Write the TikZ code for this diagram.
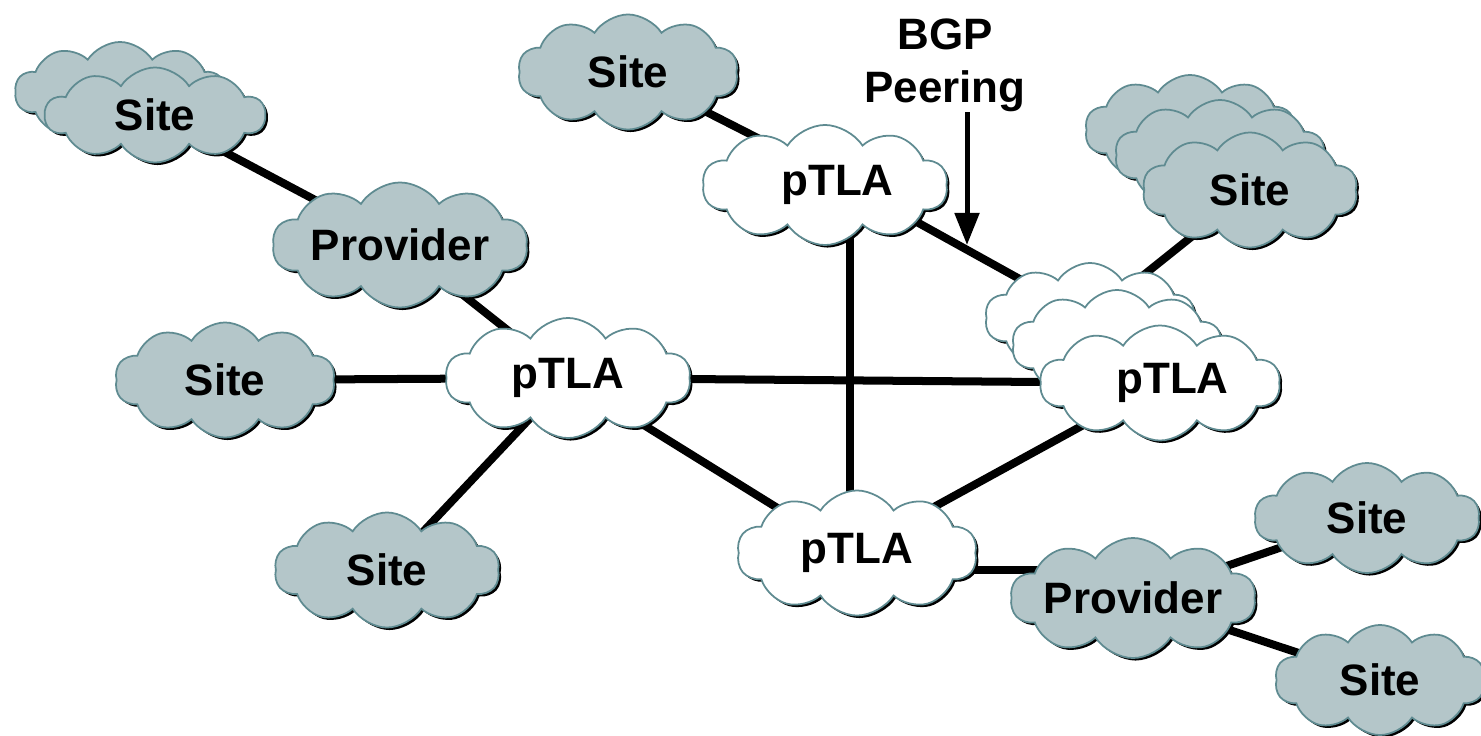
\documentclass[tikz,border=0pt]{standalone}
\usepackage{fontspec}
\setmainfont{Liberation Sans}
\usetikzlibrary{shapes.symbols,shadows,arrows.meta}

\definecolor{cloudedge}{HTML}{5F8B91}
\definecolor{cloudfill}{HTML}{B4C6C9}
\newcommand{\ctext}[1]{\makebox[0pt]{#1}}

\begin{document}
\begin{tikzpicture}[x=0.01cm,y=-0.01cm,
  font=\fontsize{12.5}{15}\selectfont\bfseries,
  puff/.style={cloud, cloud puffs=10, cloud puff arc=115, draw=cloudedge,
    line width=0.5pt, inner sep=0pt,
    drop shadow={shadow xshift=0.025cm, shadow yshift=-0.025cm, fill=black, opacity=1}},
  site/.style={puff, fill=cloudfill, minimum width=2.2cm, minimum height=1.15cm},
  prov/.style={puff, fill=cloudfill, minimum width=2.5cm, minimum height=1.2cm},
  tla/.style={puff, fill=white, minimum width=2.45cm, minimum height=1.2cm},
  link/.style={line width=0.08cm}]

\useasboundingbox (0,0) rectangle (1481,736);

% links first, clouds go on top
\coordinate (stl0) at (155,115);
\coordinate (prov0) at (400,245);
\coordinate (sl0) at (225,380);
\coordinate (slb0) at (387,570);
\coordinate (pl0) at (568,378);
\coordinate (st0) at (628,72);
\coordinate (pt0) at (850,185);
\coordinate (pb0) at (850,553);
\coordinate (pr30) at (1090,318);
\coordinate (pr0) at (1160,383);
\coordinate (sr0) at (1250,190);
\coordinate (sbr0) at (1367,518);
\coordinate (prov20) at (1133,598);
\coordinate (sbr20) at (1380,680);

\draw[link] (stl0) -- (prov0);
\draw[link] (prov0) -- (pl0);
\draw[link] (sl0) -- (pl0);
\draw[link] (slb0) -- (pl0);
\draw[link] (pl0) -- (pr0);
\draw[link] (pl0) -- (pb0);
\draw[link] (st0) -- (pt0);
\draw[link] (pt0) -- (pb0);
\draw[link] (pt0) -- (pr30);
\draw[link] (sr0) -- (pr30);
\draw[link] (pr0) -- (pb0);
\draw[link] ([yshift=-0.17cm]pb0) -- ([yshift=-0.17cm]pb0 -| prov20);
\draw[link] (prov20) -- (sbr0);
\draw[link] (prov20) -- (sbr20);

% site stack, top left
\node[site, minimum width=2.1cm, minimum height=1cm] (stl2) at (120,92) {};
\node[site, minimum height=0.95cm] (stl) at (stl0) {\ctext{Site}};

\node[prov, minimum width=2.55cm, minimum height=1.25cm] (prov) at (prov0) {\ctext{Provider}};
\node[site] (sl) at (sl0) {\ctext{Site}};
\node[site, minimum width=2.25cm] (slb) at (slb0) {\ctext{Site}};
\node[tla] (pl) at (pl0) {\ctext{pTLA}};

\node[site] (st) at (st0) {\ctext{Site}};
\node[tla] (pt) at (825,185) {\ctext{\hspace*{0.25cm}pTLA}};
\node[tla, minimum width=2.4cm, minimum height=1.25cm] (pb) at (857,553) {\ctext{pTLA}};

% pTLA stack, right
\node[tla, minimum width=2.1cm, minimum height=1.1cm] (pr3) at (pr30) {};
\node[tla, minimum width=2.1cm, minimum height=1.1cm] (pr2) at (1117,345) {};
\node[tla, minimum width=2.4cm, minimum height=1.15cm] (pr) at (pr0) {\ctext{\hspace*{0.25cm}pTLA}};

% site stack, right
\node[site, minimum width=2.1cm, minimum height=1.1cm] (sr3) at (1190,130) {};
\node[site, minimum width=2.1cm, minimum height=1.1cm] (sr2) at (1220,155) {};
\node[site, minimum width=2.15cm] (sr) at (sr0) {\ctext{Site}};

\node[site, minimum width=2.25cm, minimum height=1.1cm] (sbr) at (sbr0) {\ctext{Site}};
\node[prov, minimum width=2.45cm] (prov2) at (prov20) {\ctext{Provider}};
\node[site, minimum width=2.1cm, minimum height=1.1cm] (sbr2) at (sbr20) {\ctext{Site}};

% BGP peering arrow
\node[align=center, inner sep=0pt] (bgp) at (945,65) {BGP\\Peering};
\coordinate (bgpend) at (967,245);
\draw[line width=0.05cm, -{Triangle[width=0.24cm, length=0.32cm]}] (bgp.south -| bgpend) -- (bgpend);

\end{tikzpicture}
\end{document}
